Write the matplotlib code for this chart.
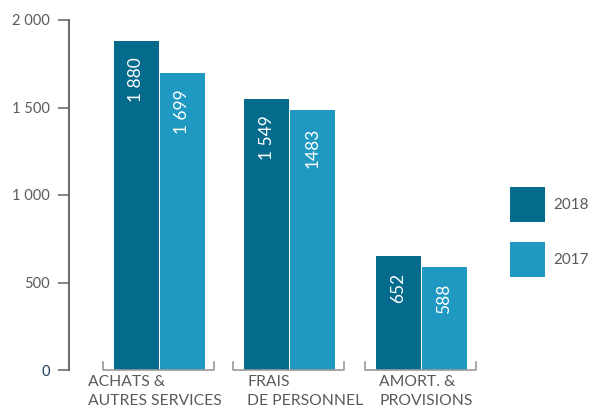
import matplotlib.pyplot as plt
from matplotlib.transforms import blended_transform_factory
import numpy as np

plt.rcParams['font.family'] = ['Lato', 'DejaVu Sans']

categories = ["ACHATS &\nAUTRES SERVICES", "FRAIS\nDE PERSONNEL", "AMORT. &\nPROVISIONS"]
v2018 = [1880, 1549, 652]
v2017 = [1699, 1483, 588]
lab2018 = ["1 880", "1 549", "652"]
lab2017 = ["1 699", "1483", "588"]
yticks = [0, 500, 1000, 1500, 2000]
yticklabels = ["0", "500", "1 000", "1 500", "2 000"]

dark = "#046b8c"
light = "#1f99c2"
grey = "#6e6e6e"
txt = "#5a5a5a"

fig = plt.figure(figsize=(5.91, 4.08), dpi=100)
ax = fig.add_axes([69 / 591, 1 - 370 / 408, (500 - 69) / 591, 350 / 408])

x = np.array([0, 1, 2]) * 1.0
x[1] = 0.995
w = 0.344
b1 = ax.bar(x - w / 2, v2018, w, color=dark, label="2018")
b2 = ax.bar(x + w / 2 + 0.004, v2017, w, color=light, label="2017")

for bars, labs in ((b1, lab2018), (b2, lab2017)):
    for r, s in zip(bars, labs):
        ax.annotate(s, (r.get_x() + r.get_width() / 2, r.get_height()),
                    xytext=(0, -12), textcoords="offset points",
                    rotation=90, ha="center", va="top", color="white", fontsize=12.5)

# brackets under each group
for xi in x:
    l, rgt = xi - 0.427, xi + 0.42
    ax.plot([l, l, rgt, rgt], [48, 0, 0, 48], color="#9a9a9a", lw=1.2, clip_on=False)

trans = blended_transform_factory(ax.transData, ax.transAxes)
offs = [-0.542, -0.32, -0.317]
for xi, o, c in zip(x, offs, categories):
    ax.text(xi + o, -0.015, c, transform=trans, ha="left", va="top",
            fontsize=11.3, color=txt, linespacing=1.45, clip_on=False)

ax.set_xlim(-0.687, 2.603)
ax.set_ylim(0, 2000)
ax.set_yticks(yticks)
ax.set_yticklabels(yticklabels, fontsize=10.5, color=txt)
ax.get_yticklabels()[0].set_color("#1d3e5c")
ax.tick_params(axis="y", length=8, width=1.2, color=grey, pad=6)
ax.set_xticks([])
for s in ["top", "right", "bottom"]:
    ax.spines[s].set_visible(False)
ax.spines["left"].set_color(grey)
ax.spines["left"].set_linewidth(1.5)

ax.legend(loc="upper left", bbox_to_anchor=(510 / 591, 1 - 187 / 408),
          bbox_transform=fig.transFigure, frameon=False, fontsize=11,
          handlelength=2.29, handleheight=3.15, labelspacing=1.31,
          handletextpad=0.52, borderpad=0, borderaxespad=0, labelcolor=txt)

fig.savefig("out.png", dpi=100)
